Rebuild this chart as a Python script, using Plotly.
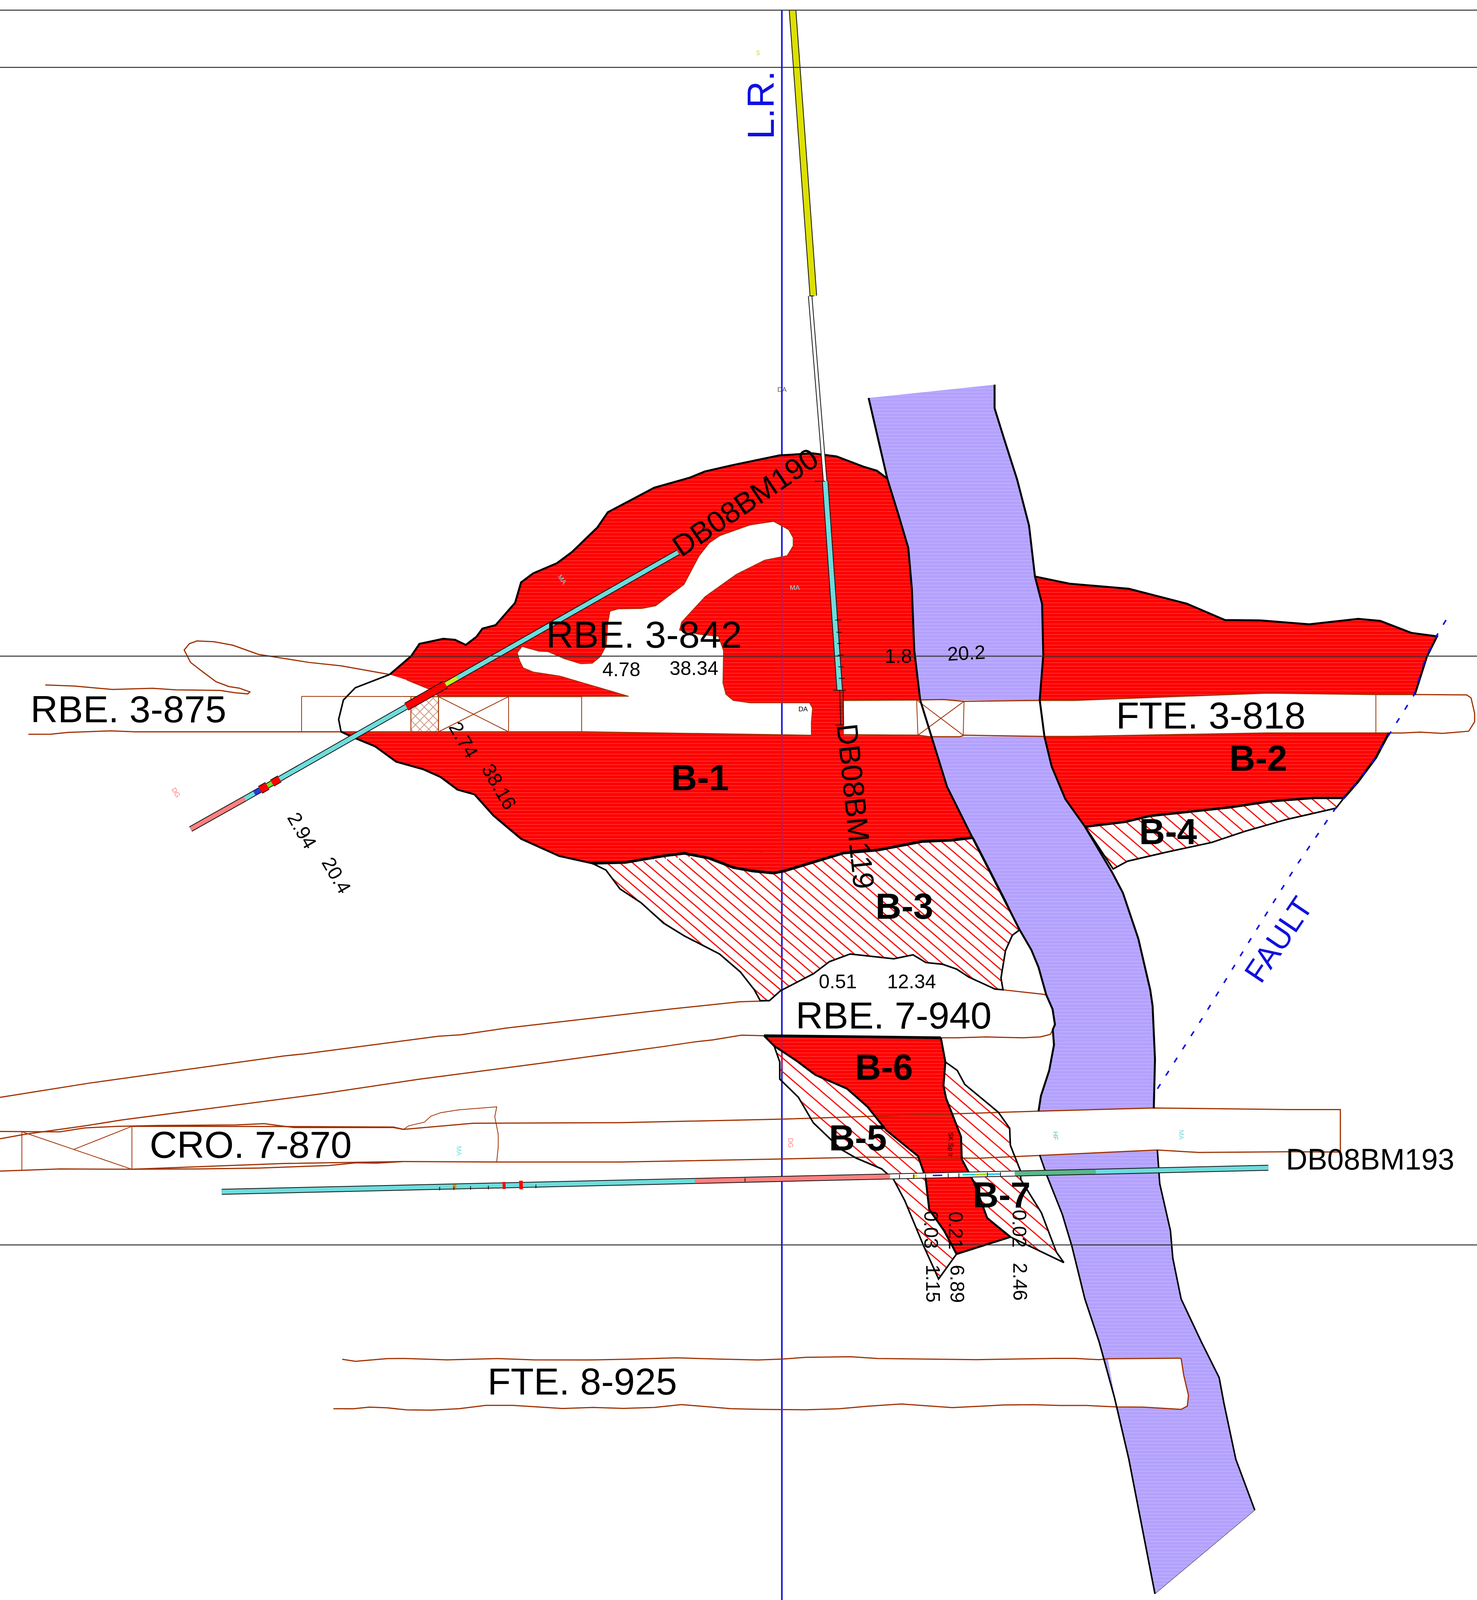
import plotly.graph_objects as go

XMAX, YMAX = 1243, 1568

# ---------- geological outlines (section coordinates) ----------
band_left_up = [(731,390),(737,420),(746.7,469),(756.8,507),(764.4,537),(767.4,577),(769.4,637),(774.4,686)]
band_left_mid = [(774.4,686),(784,722),(797,771),(818,820),(846,883),(858,911),(868,931),(874,948),(880.5,975),(885.8,989),(887.8,1004),(886,1009),(887,1024),(883,1049),(876,1074),(874,1089)]
band_left_low = [(875,1132),(881,1152),(894,1190),(902,1221),(913,1273),(925,1315),(938,1370),(950,1430),(972,1562)]
band_right_up = [(837,377),(837,400),(845,430),(856,470),(866,515),(871,565),(877,592),(878,642),(875,686),(879,722),(885,751),(896.5,783),(913,810),(936,855),(945,875),(958,920),(968,970),(970,986),(972,1038),(971,1086)]
band_right_low = [(974,1127),(976,1160),(985,1206),(987,1233),(994,1273),(1011,1315),(1026,1350),(1030,1375),(1040,1430),(1056,1480)]

ore_outer = [(328,661),(346,643),(353,631),(373,626),(383,627),(392,632),(401,624),(406,616),(417,612.7),(433.5,590.7),(438.5,570.8),(448.6,561.9),(468.7,551.9),(481.3,541),(502.7,517),(511.5,502),(527.8,492),(550.5,478),(580.7,468),(593.3,462),(615.9,456),(656,446.3),(683.8,444.3),(704,447.3),(726.6,457.3),(738,461.3),(746.7,469)]
ore_inner = [(774.4,686),(709,686.4),(709.8,720.6),(682.8,720.6),(682.8,708),(683.8,694),(681.3,688.8),(631,688.8),(617,686.4),(610.9,680.4),(608.4,669.4),(608.9,637.6),(604.6,623.6),(588.2,621.6),(571.9,617.6),(573.6,609.7),(593.3,584.8),(619.7,562.9),(643.6,548.9),(662.5,544.5),(667.5,535),(667.5,527),(663.7,519),(651.1,511),(631,514.5),(605.8,525),(597,532),(588.2,545),(575.6,572.8),(551.8,593.7),(540.4,596.3),(520.3,596.7),(513.3,599),(511.5,610.7),(510.2,632.6),(505.2,643.5),(498.4,650),(488.9,650.5),(475,645.5),(461.2,638.6),(453.6,638.2),(439.3,633.6),(435.3,639.6),(437.3,647.5),(440.3,654.5),(448.6,658.5),(471.2,662.5),(529.1,682.4),(369,682.7),(363.7,676.6),(342.3,666.4),(328,661)]

b1_bottom = [(818.9,820.9),(800.7,823.4),(775.7,824.7),(739,833),(709.7,836),(683.3,845.2),(659.8,853.6),(651,855.6),(633.4,853.6),(617.2,850.2),(596.7,841),(576.1,836.3),(560,838.5),(526.2,845.2),(498.4,846)]
b1_left = [(498.4,846),(470.6,838.9),(438.5,822),(415.3,799.3),(399.3,778.5),(385,773.8),(370.8,761.5),(356.5,754),(333.3,746.4),(315.5,731.3),(296,722),(287,717)]
b1_top = [(287,717),(490,717.2),(682.8,720.6),(709.8,720.6),(771.9,720.6),(784,722),(797,771),(818.9,820.9)]

bulge_left = [(287,717),(285,705),(289,686),(299,674),(328,661)]

b2_up = [(871,565),(877,592),(878,642),(875,686),(904,686.4),(1066,679),(1158,680.6),(1190.7,680.6),(1200.8,643.7),(1209.4,623.6),(1187.7,620.2),(1161.6,608.5),(1143,606.5),(1101.8,611.8),(1060.8,608),(1030.9,607.6),(999,591.7),(950,577),(900,572),(871,565)]
b2_low = [(879,722),(904,721.7),(1066.4,718.3),(1169,718.3),(1157.9,742.6),(1143,766),(1131,782),(1105.6,782),(1068,785.4),(1034.6,791.3),(967.4,799.7),(946.9,805.5),(913.3,810.2),(896.5,783),(885,751),(879,722)]
b4_edge = [(1131,782),(1124.3,792),(1083,803),(1047.7,814.7),(1019.7,825.6),(982.4,834.9),(948.8,844),(936.8,851.6),(913.3,810.2)]
b3_edge = [(498.4,846),(510,852.7),(521.8,871.2),(539.4,884.6),(558.5,904.7),(576.1,917.3),(605.5,934.9),(623.1,952.5),(634.8,970),(639.8,980.7),(647.5,980.7),(656.8,971),(684.7,954.2),(698,942.4),(715.5,934.9),(752.2,939.6),(768.4,935.7),(779.2,943.3),(793.3,945),(805,949.7),(815.3,957.5),(837.4,969.3),(844.1,970),(842.4,958.4),(846.2,931.5),(852,916.5),(857.9,911.4)]
b3_side = [(857.9,911.4),(846.2,882.9),(818.9,820.9)]

b6_right = [(643,1015),(791.8,1017),(795.6,1040.7),(794,1063.8),(796.2,1076.3),(808.8,1114),(809.4,1136),(819.8,1159),(830.8,1193.7),(850.3,1212.2),(805,1229)]
b6_left = [(805,1229),(794.6,1206.3),(782,1185.3),(778.9,1153.9),(772.6,1133),(745.9,1107.8),(730.1,1084.7),(712.8,1066.9),(686.1,1053.3),(670.4,1039.6),(651.5,1025),(643,1015)]
b5_edge = [(651.5,1025),(656.2,1040.7),(656.2,1057.5),(671.9,1075.3),(684.5,1100.4),(708.1,1126.6),(720.7,1135),(742,1145.5),(752.1,1156),(761.6,1177),(777.3,1221),(789.9,1253.4),(805,1229)]
b7_edge = [(795.6,1040.7),(805.6,1049),(811.9,1062.7),(840.2,1090),(849.7,1105.7),(850.3,1122.4),(858.5,1146.5),(859.1,1156),(876.4,1188.5),(889,1227),(895.3,1237.3),(850.3,1212.2)]

# ---------- workings ----------
rbe3_top = [(38.1,671.3),(62.4,672.3),(94.5,675.7),(128.3,674.5),(148,676),(185.4,676.6),(197.9,678.9),(208.6,680),(210.3,678.1),(201.4,674.4),(192.5,672.8),(181.8,668.1),(171,658.7),(160.4,649.2),(155,637),(159.4,630.8),(165.8,628.1),(180,628.9),(196,632.3),(217.5,641.3),(260.2,649.2),(287,652.5),(328,661)]
rbe3_bottom = [(23.9,719.6),(42.8,719.5),(57,717.8),(93.4,716.2),(114,717.2),(287,717.2),(490,717.2),(682.8,720.6)]
rbe3_roof = [(253.8,682.5),(489.5,682.7)]
rbe3_posts = [(253.8,682.5),(253.8,717.2),None,(345.8,682.7),(345.8,717.2),None,(369,682.7),(369,717.2),None,(428,682.7),(428,717.2),None,(489.5,682.7),(489.5,717.2),None,(369,682.7),(428,717.2),None,(428,682.7),(369,717.2)]
rbe3_timber = [(345.8,682.7),(369,682.7),(369,717.2),(345.8,717.2),(345.8,682.7)]

fte3_top = [(709.8,686.4),(771.4,686),(794,685.5),(811.3,687.3),(875,686.4),(904,686.4),(1066.4,679.2),(1157.9,680.6),(1190.7,680.6),(1217.6,681),(1234.4,681),(1238,684),(1241,699),(1241,707.4),(1236,716.6),(1213.9,718.7),(1195,717.5),(1180,718.3),(1169,718.3),(1066.4,718.3),(904,721.7),(878.6,721.7),(811,720.5),(808,722),(782,722),(772.5,720.5),(709.8,720)]
fte3_posts = [(709.8,686.4),(709.8,720),None,(771.4,686),(772.5,720.5),None,(811.3,687.3),(810.6,720.5),None,(771.4,686),(810.6,720.5),None,(811.3,687.3),(772.5,720.5),None,(1157.9,680.6),(1157.9,718.3)]
fte3_white = [(775,686),(875,686.4),(878.6,721.7),(784,722)]

rbe7_top = [(0,1075.4),(75.5,1061.4),(239,1034.8),(255.8,1032.8),(369,1015.5),(387.9,1014.1),(425.6,1007.6),(564,988.9),(622.7,981.7),(643.6,981)]
rbe7_bottom = [(0,1116),(21,1111.6),(71.3,1103.4),(102.7,1097.5),(270.4,1072),(352.2,1057.7),(455,1042),(557.7,1025.7),(583.7,1021.2),(599.6,1019.1),(624,1014.5),(643.6,1015)]
rbe7_end = [(837.4,969.3),(844,970),(877,974.3),(880.5,975),(885.8,988.8),(887.8,1004.5),(884,1013.7),(875.5,1016.2),(860.8,1017),(830,1016.2),(805,1017),(791.8,1017)]

cro_top = [(0,1108.8),(50.3,1109.2),(71.3,1105.4),(98.5,1103.8),(132,1103),(199.2,1102.4),(222.2,1101.2),(247.4,1105),(331.2,1105),(339.6,1106.8),(398.3,1100.8),(522,1100.2),(657.5,1096.8),(874.8,1088.9),(971.4,1085.8),(1085,1087.4),(1128,1087.4),(1128,1129),(1085,1128.7),(1008.5,1129.4),(974,1127),(874.8,1132.3),(824.5,1135),(730,1134),(657.5,1135.8),(522,1138.8),(419.3,1138.8),(339.6,1138.3),(239,1140.2),(111,1145.9),(50.3,1145.6),(0,1147.7)]
cro_top2 = [(111,1103.8),(247.4,1104),(331.2,1104.5),(339.6,1106.8)]
cro_bottom2 = [(111,1145.9),(166,1145.6),(218,1144.7),(276.7,1142.2),(299.8,1139.5),(316.6,1139.9),(339.6,1138.3)]
cro_stope = [(339.6,1106.8),(343.8,1103.4),(357.2,1099.7),(362.7,1093.8),(371,1090.4),(385.8,1087.7),(418,1084.7),(416.4,1094.5),(419.3,1111.6),(419.3,1123.8),(418,1138.8)]
cro_posts = [(111,1103.8),(111,1145.9),None,(18.4,1109.1),(18.4,1147),None,(18.4,1109.1),(111,1145.9),None,(111,1103.8),(62,1126.5)]
cro_white = [(862,1090),(971.4,1085.8),(1128,1087.4),(1128,1129),(974,1127),(862,1133)]

fte8_top = [(288,1332.1),(299.2,1334.1),(325.9,1331.4),(341,1331.3),(376.2,1332.7),(419,1331.4),(449.2,1332.7),(494.5,1332.8),(529.7,1332),(570,1330.7),(605.2,1331.9),(637.9,1332.8),(658,1331.9),(678.1,1330.2),(715.9,1329.6),(738.5,1331.3),(821.6,1332.5),(887,1331.2),(904.6,1331.2),(924.7,1332.5),(932.3,1331.6),(992.6,1331),(994,1331.4),(996.2,1347.8),(1000.2,1367.5),(999.2,1378),(994,1381.2),(962.4,1379),(939.8,1378.8),(914.6,1377.4),(892,1377.4),(869.4,1376.6),(844.2,1376.9),(801.4,1379.5),(758.7,1375.9),(731,1378),(705.8,1380.6),(678,1381.6),(640.4,1381.2),(615.2,1380.5),(573.5,1376.5),(550.8,1379.3),(524.7,1380.2),(499.5,1379.3),(473.3,1380.3),(431.6,1377.3),(408.9,1377.3),(386.3,1380.5),(362.6,1382),(342.5,1381.7),(325.9,1379.7),(310.8,1379),(297.2,1380.6),(280.6,1380.5)]
fte8_white = [(932.3,1331.6),(994,1331.4),(996.2,1347.8),(1000.2,1367.5),(999.2,1378),(994,1381.2),(962.4,1379),(939.8,1378.8)]

fault_trace = [(1216.9,607.6),(1209,623),(1200,644),(1190,681),(1170,718),(1158,742),(1143,766),(1131,782),(1124,792),(1090,850),(1050,925),(1015,992),(973,1069)]

# ---------- grid ----------
grid_y = [10, 66, 643, 1220]
lr_x = 658
lr_y = [10, 1568]
lr_on_ore = [(446.3,511),(545,689),(721,855),(1015,1047)]

# ---------- drill holes: start, end, colour, thickness ----------
hole_190 = [
    ((570.6,541.3),(385,664.2),"#6edcdc",11),
    ((385,664.2),(375,670.8),"#c8f020",11),
    ((375,670.8),(342,692.6),"#ff0000",18),
    ((342,692.6),(235.3,763.3),"#6edcdc",11),
    ((235.3,763.3),(229,767.5),"#ff0000",16),
    ((229,767.5),(225,770.1),"#70e020",11),
    ((225,770.1),(219,774.1),"#ff0000",18),
    ((219,774.1),(214,777.4),"#2040e0",11),
    ((214,777.4),(206,782.7),"#6edcdc",11),
    ((206,782.7),(160.4,812.5),"#ff8080",11),
]
hole_119 = [
    ((667,10),(684.5,290),"#dde000",15),
    ((681.8,290),(694.4,471.6),"#ffffff",7),
    ((694.4,471.6),(706.7,676.8),"#6edcdc",12),
]
hole_193 = [
    ((186.6,1168),(585,1157.3),"#6edcdc",11),
    ((585,1157.3),(749,1152.9),"#ff8080",11),
    ((749,1152.9),(854,1150.1),"#ffffff",11),
    ((854,1150.1),(922,1148.3),"#5ab88a",11),
    ((922,1148.3),(1067.4,1144.4),"#6edcdc",11),
]
hole_193_marks = [
    ((423,1161.8),(425.5,1161.7),"#ff0000",18),
    ((437,1161.4),(440,1161.3),"#ff0000",22),
    ((381,1162.9),(384,1162.8),"#f08a10",11),
    ((768,1152.4),(772,1152.3),"#e8e800",5),
    ((785,1152),(793,1151.8),"#2030e0",4),
    ((810,1151.3),(821,1151),"#20d8d8",4),
    ((821,1151),(831,1150.8),"#a8e000",5),
    ((831,1150.8),(842,1150.5),"#20c8f0",4),
]
hole_ticks = [(685.6,471.6),(694.4,471.6),None,(703,607.7),(708,607.7),None,(704,619.6),(708.5,619.6),None,(704.5,630.6),(709,630.6),None,(705,642),(710,642),None,(705.5,653.5),(710,653.5),None,(706,664.8),(711,664.8),None,(701,676.4),(712,676.4),None,(702.7,710.7),(710,710.7),None,(706.7,676.8),(707.5,710.7),None,(709.5,676.8),(710,710.7),None,(681,290),(685,290)]
hole_193_ticks = [(370,1163.1),(370,1166.6),None,(382,1162.8),(382,1166.3),None,(396,1162.4),(396,1166),None,(411,1162),(411,1165.6),None,(451,1161),(451,1164.5),None,(627,1154.5),(627,1158),None,(757,1151),(757,1155),None,(769,1150.7),(769,1154.7),None,(779,1150.5),(779,1154.5),None,(798,1150),(798,1154),None,(807,1149.8),(807,1153.8),None,(831,1149),(831,1153),None,(842,1148.8),(842,1152.8)]

# ---------- text ----------
big_labels = [("RBE. 3-875",108,695,0),("RBE. 3-842",542,622,0),("FTE. 3-818",1019,701,0),("RBE. 7-940",752,995,0),("CRO. 7-870",211,1122,0),("FTE. 8-925",490,1354,0)]
ore_labels = [("B-1",589,762),("B-2",1059,743),("B-3",761,888),("B-4",983,815),("B-5",722,1115),("B-6",744,1046),("B-7",843,1171)]
assay_labels = [("4.78",523,656,0),("38.34",584,655,0),("1.8",756,643,0),("20.2",813,640,-3),("0.51",705,962,0),("12.34",767,962,0),
                ("2.74",390,725,60),("38.16",420,771,60),("2.94",254,814,60),("20.4",283,858,60),
                ("0.03",783.5,1205,90),("0.21",804,1206,90),("0.02",857.5,1204,90),("1.15",785,1258,90),("6.89",805.5,1258,90),("2.46",858.5,1256,90)]
hole_labels = [("DB08BM190",627,492,-34),("DB08BM119",720,790,84),("DB08BM193",1153,1136,0)]
tiny_labels = [("DA",676,695,0,"#000000"),("DA",658,382,0,"#555555"),("MA",669,576,0,"#7fdada"),("MA",473,568,55,"#7fdada"),
               ("MA",386,1128,90,"#7fdada"),("MA",994,1112,90,"#7fdada"),("HF",888,1113,90,"#60c8a0"),("DG",665,1120,90,"#ff8080"),
               ("DG",148,777,60,"#ff8080"),("SK Sp tr",800,1122,90,"#000000"),("$",638,52,0,"#dde060")]

RED = "#ff0000"
PURPLE = "#b3a1fd"
BROWN = "#a03000"
BLACK = "#000000"
FONT = "Liberation Sans"

fig = go.Figure()


def split(pts):
    xs, ys = [], []
    for p in pts:
        xs.append(None if p is None else p[0])
        ys.append(None if p is None else p[1])
    return xs, ys


def line(pts, color=BLACK, width=3, dash=None):
    xs, ys = split(pts)
    fig.add_trace(go.Scatter(x=xs, y=ys, mode="lines", hoverinfo="skip",
                             line=dict(color=color, width=width, dash=dash)))


def area(pts, color, streak=None):
    xs, ys = split(list(pts) + [pts[0]])
    kw = {}
    if streak:
        kw["fillpattern"] = dict(shape="-", size=9, solidity=0.18, fgcolor=streak, bgcolor=color, fillmode="replace")
    fig.add_trace(go.Scatter(x=xs, y=ys, mode="lines", fill="toself", fillcolor=color, hoverinfo="skip",
                             line=dict(width=0, color=color), **kw))


def hatch(poly, step, through, color=RED, width=3):
    """Clip 45-degree lines y = x + c to a polygon."""
    closed = list(poly) + [poly[0]]
    cs = [p[1] - p[0] for p in poly]
    c0 = through[1] - through[0]
    n0 = int((min(cs) - c0) // step)
    n1 = int((max(cs) - c0) // step) + 1
    out = []
    for n in range(n0, n1 + 1):
        c = c0 + n * step
        hits = []
        for (x1, y1), (x2, y2) in zip(closed, closed[1:]):
            d1, d2 = y1 - x1 - c, y2 - x2 - c
            if (d1 < 0) != (d2 < 0):
                t = d1 / (d1 - d2)
                hits.append(x1 + t * (x2 - x1))
        hits.sort()
        for a, b in zip(hits[0::2], hits[1::2]):
            out += [(a, a + c), (b, b + c), None]
    line(out, color, width)


def hole(segments, edge=True):
    if edge:
        for a, b, _, w in segments:
            if w >= 6:
                line([a, b], "#111111", w + 4)
    for a, b, col, w in segments:
        line([a, b], col, w)


def label(text, x, y, size, angle=0, color=BLACK, bold=False):
    fig.add_annotation(x=x, y=y, xref="x", yref="y", text=f"<b>{text}</b>" if bold else text, showarrow=False,
                       textangle=angle, xanchor="center", yanchor="middle",
                       font=dict(family=FONT, size=size, color=color))


# lode line under everything
line([(lr_x, lr_y[0]), (lr_x, lr_y[1])], "#1010e0", 4)

# fault band
band = band_right_up + band_right_low + list(reversed(band_left_low)) + list(reversed(band_left_mid)) + list(reversed(band_left_up))
area(band, PURPLE, "#c3b6ff")

# ore bodies
area(ore_outer + band_left_up[3:] + ore_inner[1:-1], RED, "#ff3c3c")
area(b1_top[:-1] + b1_bottom + b1_left[1:], RED, "#ff3c3c")
area(b2_up, RED, "#ff3c3c")
area(b2_low, RED, "#ff3c3c")
area(b6_right + b6_left[1:], RED, "#ff3c3c")

# on-ore segments of the L.R. line
for a, b in lr_on_ore:
    line([(lr_x, a), (lr_x, b)], "#c01858", 4)

# openings that cut the fault band
for poly in (fte3_white, cro_white, rbe7_end, fte8_white):
    area(poly, "#ffffff")

# hatched low-grade blocks
hatch(b3_edge + b3_side[1:] + list(reversed(b1_bottom))[1:], 10.8, (558.5, 839.3))
hatch(b4_edge + list(reversed(b2_low[7:13])), 12.8, (915.1, 811.4))
hatch(b5_edge + b6_left[1:-1], 13.5, (656.2, 1034.4))
hatch(b7_edge + list(reversed(b6_right[2:9])), 13.5, (656.2, 1034.4))

# timber
xs, ys = split(rbe3_timber)
fig.add_trace(go.Scatter(x=xs, y=ys, mode="lines", fill="toself", fillcolor="#ffffff", hoverinfo="skip",
                         fillpattern=dict(shape="x", size=16, solidity=0.25, fgcolor=BROWN, bgcolor="#ffffff"),
                         line=dict(color=BROWN, width=2)))

# workings outlines
for pts, w in [(rbe3_top, 3), (rbe3_bottom, 3), (rbe3_roof, 2), (rbe3_posts, 2), (fte3_top, 3), (fte3_posts, 2),
               (rbe7_top, 3), (rbe7_bottom, 3), (rbe7_end, 3), (cro_top, 3), (cro_top2, 3), (cro_bottom2, 3),
               (cro_stope, 2), (cro_posts, 2), (fte8_top, 3)]:
    line(pts, BROWN, w)

# inner ore edge
line(ore_inner[1:-1], BROWN, 2)

# black contacts
for pts, w in [(band_left_up, 5), (band_left_mid, 5), (band_left_low, 4), (band_right_up, 5), (band_right_low, 4),
               ([band_right_low[-1], band_left_low[-1]], 1), (ore_outer, 5), (bulge_left, 4), (b1_bottom, 7), (b1_left, 5),
               (b2_up[7:], 5), (b2_low[3:13], 6), (b4_edge, 4), (b3_edge, 4), (b3_side, 4),
               (b6_right[:2], 7), (b6_right[1:], 5), (b6_left, 5), (b5_edge, 4), (b7_edge, 4)]:
    line(pts, BLACK, w)

# fault
line(fault_trace, "#1010e0", 4, "14px,26px")

# drill holes
hole(hole_190)
hole(hole_119)
hole(hole_193)
hole(hole_193_marks, edge=False)
line(hole_ticks, "#111111", 2)
line(hole_193_ticks, "#111111", 2)

# grid lines
for gy in grid_y:
    line([(0, gy), (XMAX, gy)], "#303030", 2.5)

# text
for t, x, y, a in big_labels:
    label(t, x, y, 97, a)
for t, x, y in ore_labels:
    label(t, x, y, 92, 0, bold=True)
for t, x, y, a in assay_labels:
    label(t, x, y, 50, a)
for t, x, y, a in hole_labels:
    label(t, x, y, 76, a)
for t, x, y, a, c in tiny_labels:
    label(t, x, y, 17, a, c)
label("L.R.", 640, 103, 96, -90, "#1010e0")
label("FAULT", 1076, 921, 80, -56, "#1010e0")

fig.update_layout(autosize=True, margin=dict(l=0, r=0, t=0, b=0), showlegend=False,
                  paper_bgcolor="#ffffff", plot_bgcolor="#ffffff",
                  xaxis=dict(range=[0, XMAX], visible=False, fixedrange=True),
                  yaxis=dict(range=[YMAX, 0], visible=False, fixedrange=True))
# The browser may cap the window height, so the figure fills whatever window it gets.
fit = ("document.body.style.margin='0';document.documentElement.style.overflow='hidden';"
       "Plotly.Plots.resize(document.querySelector('.plotly-graph-div'));")
fig.write_html("out.html", post_script=fit, default_width="100%", default_height="100vh",
               config={"displayModeBar": False, "responsive": True})
